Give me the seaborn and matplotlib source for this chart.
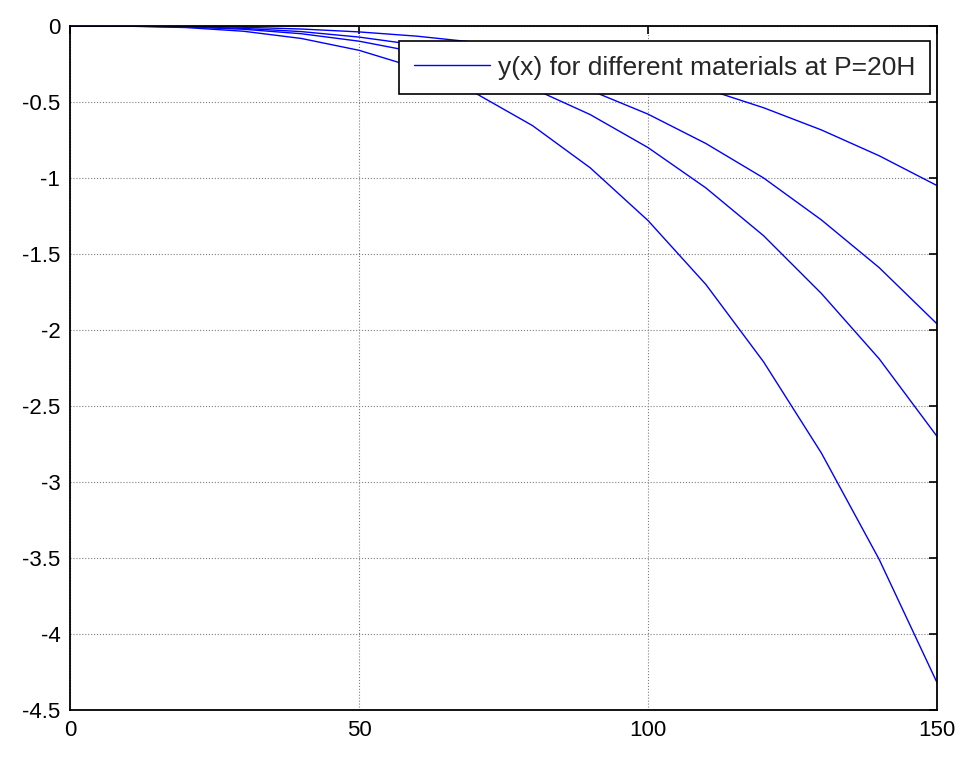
import numpy as np
import pandas as pd
import matplotlib
matplotlib.use('Agg')
import matplotlib.pyplot as plt
from matplotlib.lines import Line2D
import seaborn as sns

# sample positions along the beam
x_vals = [0, 10, 20, 30, 40, 50, 60, 70, 80, 90, 100, 110, 120, 130, 140, 150]

# deflection for the four materials
y_mat1 = [0, -0.0003, -0.0025, -0.0084, -0.020, -0.039, -0.067, -0.107, -0.159,
          -0.227, -0.311, -0.414, -0.538, -0.684, -0.854, -1.05]
y_mat2 = [0, -0.0006, -0.0046, -0.0157, -0.037, -0.073, -0.125, -0.199, -0.297,
          -0.423, -0.58, -0.773, -1.00, -1.276, -1.59, -1.96]
y_mat3 = [0, -0.0008, -0.0064, -0.0216, -0.051, -0.10, -0.173, -0.274, -0.41,
          -0.583, -0.80, -1.065, -1.38, -1.76, -2.19, -2.70]
y_mat4 = [0, -0.0013, -0.0102, -0.0346, -0.082, -0.16, -0.276, -0.439, -0.655,
          -0.933, -1.28, -1.70, -2.21, -2.81, -3.51, -4.32]

materials = ['m1', 'm2', 'm3', 'm4']
legend_label = 'y(x) for different materials at P=20H'

frames = []
for name, ys in zip(materials, [y_mat1, y_mat2, y_mat3, y_mat4]):
    frames.append(pd.DataFrame({'x': x_vals, 'y': ys, 'material': name}))
df = pd.concat(frames, ignore_index=True)

sns.set_style('white')
plt.rcParams['font.family'] = ['Liberation Sans', 'DejaVu Sans']

fig = plt.figure(figsize=(9.68, 7.64), dpi=100)
ax = fig.add_axes([0.0723, 0.0707, 0.8957, 0.8953])

sns.lineplot(data=df, x='x', y='y', units='material', estimator=None,
             color='#0000ff', linewidth=1.0, ax=ax, legend=False)

ax.set_xlim(0, 150)
ax.set_ylim(-4.5, 0)
ax.set_xticks([0, 50, 100, 150])
ax.set_yticks(np.arange(-4.5, 0.01, 0.5))
ax.set_yticklabels(['-4.5', '-4', '-3.5', '-3', '-2.5', '-2', '-1.5', '-1', '-0.5', '0'])
ax.set_xlabel('')
ax.set_ylabel('')

# matlab-ish look: dotted grid, inward ticks on all sides
ax.grid(True, color='#7f7f7f', linestyle=':', linewidth=0.8)
ax.tick_params(direction='in', length=6, width=1.2, top=True, right=True,
               labelsize=16, colors='black', pad=7)
for sp in ax.spines.values():
    sp.set_color('black')
    sp.set_linewidth(1.3)

handle = Line2D([], [], color='#0000ff', linewidth=1.0)
leg = ax.legend([handle], [legend_label], loc='upper right',
                bbox_to_anchor=(0.992, 0.978), borderaxespad=0, fontsize=19,
                handlelength=2.9, handletextpad=0.3, frameon=True, fancybox=False,
                borderpad=0.55, framealpha=1)
leg.get_frame().set_edgecolor('black')
leg.get_frame().set_linewidth(1.2)

fig.savefig('out.png', dpi=100)
